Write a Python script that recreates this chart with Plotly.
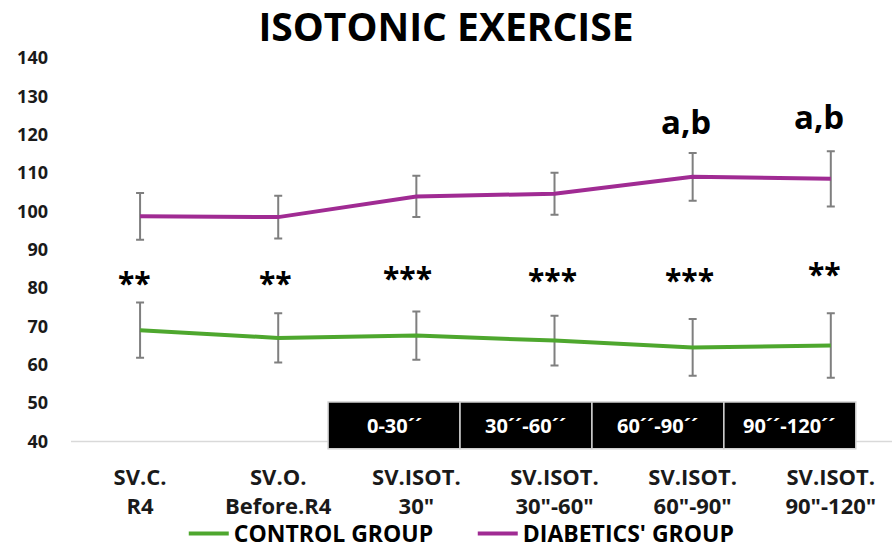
import plotly.graph_objects as go

# Stroke volume across the isotonic exercise protocol
categories = ["SV.C.<br>R4", "SV.O.<br>Before.R4", "SV.ISOT.<br>30\"",
              "SV.ISOT.<br>30\"-60\"", "SV.ISOT.<br>60\"-90\"", "SV.ISOT.<br>90\"-120\""]
control_mean = [69.0, 67.0, 67.6, 66.3, 64.5, 65.0]
control_sd = [7.2, 6.4, 6.3, 6.5, 7.4, 8.4]
diabetic_mean = [98.7, 98.5, 103.9, 104.6, 109.0, 108.5]
diabetic_sd = [6.1, 5.6, 5.4, 5.5, 6.2, 7.2]

# significance marks between groups, and a,b marks for the diabetic group
star_marks = ["**", "**", "***", "***", "***", "**"]
star_levels = [83.4, 83.4, 84.5, 84.0, 84.0, 85.6]
ab_marks = ["", "", "", "", "a,b", "a,b"]
ab_levels = [None, None, None, None, 123.4, 124.7]

# exercise phase headers
phase_labels = ["0-30´´", "30´´-60´´", "60´´-90´´", "90´´-120´´"]

GREEN = "#4EA72E"
PURPLE = "#A02B93"
FONT = "Open Sans"
x_idx = list(range(len(categories)))

fig = go.Figure()
fig.add_trace(go.Scatter(
    x=x_idx, y=control_mean, name="CONTROL GROUP", mode="lines",
    line=dict(color=GREEN, width=4),
    error_y=dict(type="data", array=control_sd, visible=True,
                 color="#7f7f7f", thickness=2, width=4),
))
fig.add_trace(go.Scatter(
    x=x_idx, y=diabetic_mean, name="DIABETICS' GROUP", mode="lines",
    line=dict(color=PURPLE, width=4),
    error_y=dict(type="data", array=diabetic_sd, visible=True,
                 color="#7f7f7f", thickness=2, width=4),
))

# horizontal baseline at 40
fig.add_shape(type="line", xref="paper", yref="y", x0=0, x1=1, y0=40, y1=40,
              line=dict(color="#d9d9d9", width=1.5), layer="below")

# phase header boxes
box_start, box_w = 1.361, 0.955
for k, lab in enumerate(phase_labels):
    x0 = box_start + k * box_w
    x1 = x0 + box_w
    fig.add_shape(type="rect", xref="x", yref="y", x0=x0, x1=x1, y0=38.1, y1=50.3,
                  fillcolor="black", line=dict(color="#d0d0d0", width=1.5))
    fig.add_annotation(x=(x0 + x1) / 2, y=44.2, xref="x", yref="y", text=lab,
                       showarrow=False,
                       font=dict(family=FONT, size=20, color="white", weight="bold"))

star_shift = [-6, -3, -9, -2, -3, -6]
for i, (m, lv) in enumerate(zip(star_marks, star_levels)):
    fig.add_annotation(x=i, y=lv, text=m, showarrow=False,
                       xshift=star_shift[i], yshift=-7,
                       font=dict(family=FONT, size=30, color="black", weight="bold"))

ab_shift = [0, 0, 0, 0, -7, -12]
for i, (m, lv) in enumerate(zip(ab_marks, ab_levels)):
    if m:
        fig.add_annotation(x=i, y=lv, text=m, showarrow=False, xshift=ab_shift[i],
                           font=dict(family=FONT, size=33, color="black", weight="bold"))

fig.update_layout(
    width=892, height=555,
    margin=dict(l=71, r=0, t=58, b=104),
    paper_bgcolor="white", plot_bgcolor="white",
    title=dict(text="ISOTONIC EXERCISE", x=0.5, xref="container", xanchor="center",
               y=0.95, yref="container", yanchor="middle",
               font=dict(family=FONT, size=39, color="black", weight="bold")),
    showlegend=True,
    legend=dict(orientation="h", x=0.53, xref="container", xanchor="center",
                y=-0.016, yref="container", yanchor="bottom",
                font=dict(family=FONT, size=23, color="black", weight="bold"),
                itemwidth=40, traceorder="normal", entrywidth=234,
                borderwidth=0, bgcolor="rgba(0,0,0,0)"),
    xaxis=dict(range=[-0.5, 5.443], tickmode="array", tickvals=x_idx,
               ticktext=categories, showgrid=False, zeroline=False, showline=False,
               ticks="", ticklabelstandoff=11, automargin=False,
               tickfont=dict(family=FONT, size=22, color="#1a1a1a", weight="bold")),
    yaxis=dict(range=[37.5, 140], tickmode="array",
               tickvals=[40, 50, 60, 70, 80, 90, 100, 110, 120, 130, 140],
               showgrid=False, zeroline=False, showline=False, ticks="",
               ticklabelstandoff=22, automargin=False,
               tickfont=dict(family=FONT, size=18, color="#1a1a1a", weight="bold")),
)

fig.write_html("out.html")
